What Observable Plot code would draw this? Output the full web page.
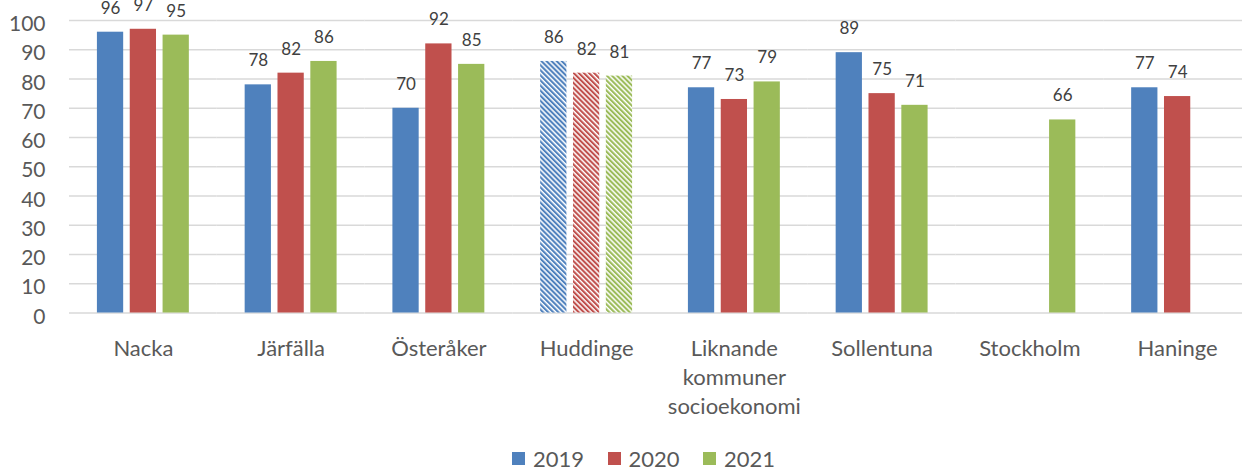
<!DOCTYPE html>
<html>
<head>
<meta charset="utf-8">
<script src="https://cdn.jsdelivr.net/npm/d3@7"></script>
<script src="https://cdn.jsdelivr.net/npm/@observablehq/plot@0.6"></script>
<style>
  body { margin: 0; background: #fff; font-family: Lato, "Open Sans", sans-serif; }
  #wrap { width: 1242px; height: 468px; overflow: hidden; position: relative; background: #fff; }
  #legend { display: flex; margin-left: 512px; margin-top: 12px; height: 43px; align-items: center; }
  .item { display: flex; align-items: center; width: 95.5px; font-size: 22px; color: #595959; }
  .sw { width: 13px; height: 13px; margin-right: 8px; }
</style>
</head>
<body>
<div id="wrap">
  <svg id="defs" width="0" height="0" style="position:absolute"><defs></defs></svg>
  <div id="chart"></div>
  <div id="legend"></div>
</div>
<script>
const categories = ["Nacka", "Järfälla", "Österåker", "Huddinge", "Liknande\nkommuner\nsocioekonomi", "Sollentuna", "Stockholm", "Haninge"];
const years = ["2019", "2020", "2021"];
const values2019 = [96, 78, 70, 86, 77, 89, null, 77];
const values2020 = [97, 82, 92, 82, 73, 75, null, 74];
const values2021 = [95, 86, 85, 81, 79, 71, 66, null];
const colors = ["#4F81BD", "#C0504D", "#9BBB59"];
const hatchedCategories = ["Huddinge"];
const yTicks = [0, 10, 20, 30, 40, 50, 60, 70, 80, 90, 100];

const series = [values2019, values2020, values2021];
const rows = [];
categories.forEach((cat, ci) => {
  years.forEach((year, yi) => {
    const v = series[yi][ci];
    if (v != null) rows.push({cat, year, value: v, hatched: hatchedCategories.includes(cat)});
  });
});

// hatch patterns
const defs = d3.select("#defs defs");
years.forEach((yr, i) => {
  const p = defs.append("pattern")
    .attr("id", "hatch-" + yr)
    .attr("patternUnits", "userSpaceOnUse")
    .attr("width", 3.6).attr("height", 3.6)
    .attr("patternTransform", "rotate(-45)");
  p.append("rect").attr("width", 3.6).attr("height", 3.6).attr("fill", "#fff");
  p.append("rect").attr("width", 2.1).attr("height", 3.6).attr("fill", colors[i]);
});

const solidRows = rows.filter(d => !d.hatched);
const hatchRows = rows.filter(d => d.hatched);

const plot = Plot.plot({
  width: 1242,
  height: 425,
  marginLeft: 69,
  marginRight: -9,
  marginTop: 20,
  marginBottom: 112.5,
  style: {fontFamily: "Lato, 'Open Sans', sans-serif", background: "transparent", maxWidth: "none"},
  fx: {domain: categories, padding: 0, round: false, label: null, axis: null},
  x: {domain: years, paddingInner: 0.2, paddingOuter: 0.85, round: false, axis: null},
  y: {domain: [0, 100], axis: null, label: null},
  color: {domain: years, range: colors},
  marks: [
    Plot.gridY(yTicks, {stroke: "#d9d9d9", strokeOpacity: 1, strokeWidth: 1.5}),
    Plot.barY(solidRows, {fx: "cat", x: "year", y: "value", fill: "year"}),
    ...years.map(yr => Plot.barY(hatchRows.filter(d => d.year === yr), {fx: "cat", x: "year", y: "value", fill: `url(#hatch-${yr})`})),
    Plot.text(rows, {fx: "cat", x: "year", y: "value", text: d => String(d.value), dy: -24, lineAnchor: "middle", fill: "#404040", fontSize: 17}),
    Plot.axisY(yTicks, {tickSize: 0, tickPadding: 24, fontSize: 21, fill: "#595959", dy: 4, tickFormat: d => String(d), label: null}),
    Plot.axisFx({anchor: "bottom", tickSize: 0, tickPadding: 22, fontSize: 22, fill: "#595959", lineHeight: 1.32, label: null})
  ]
});
document.getElementById("chart").appendChild(plot);

const legend = d3.select("#legend");
years.forEach((yr, i) => {
  const it = legend.append("div").attr("class", "item");
  it.append("div").attr("class", "sw").style("background", colors[i]);
  it.append("span").text(yr);
});
</script>
</body>
</html>
